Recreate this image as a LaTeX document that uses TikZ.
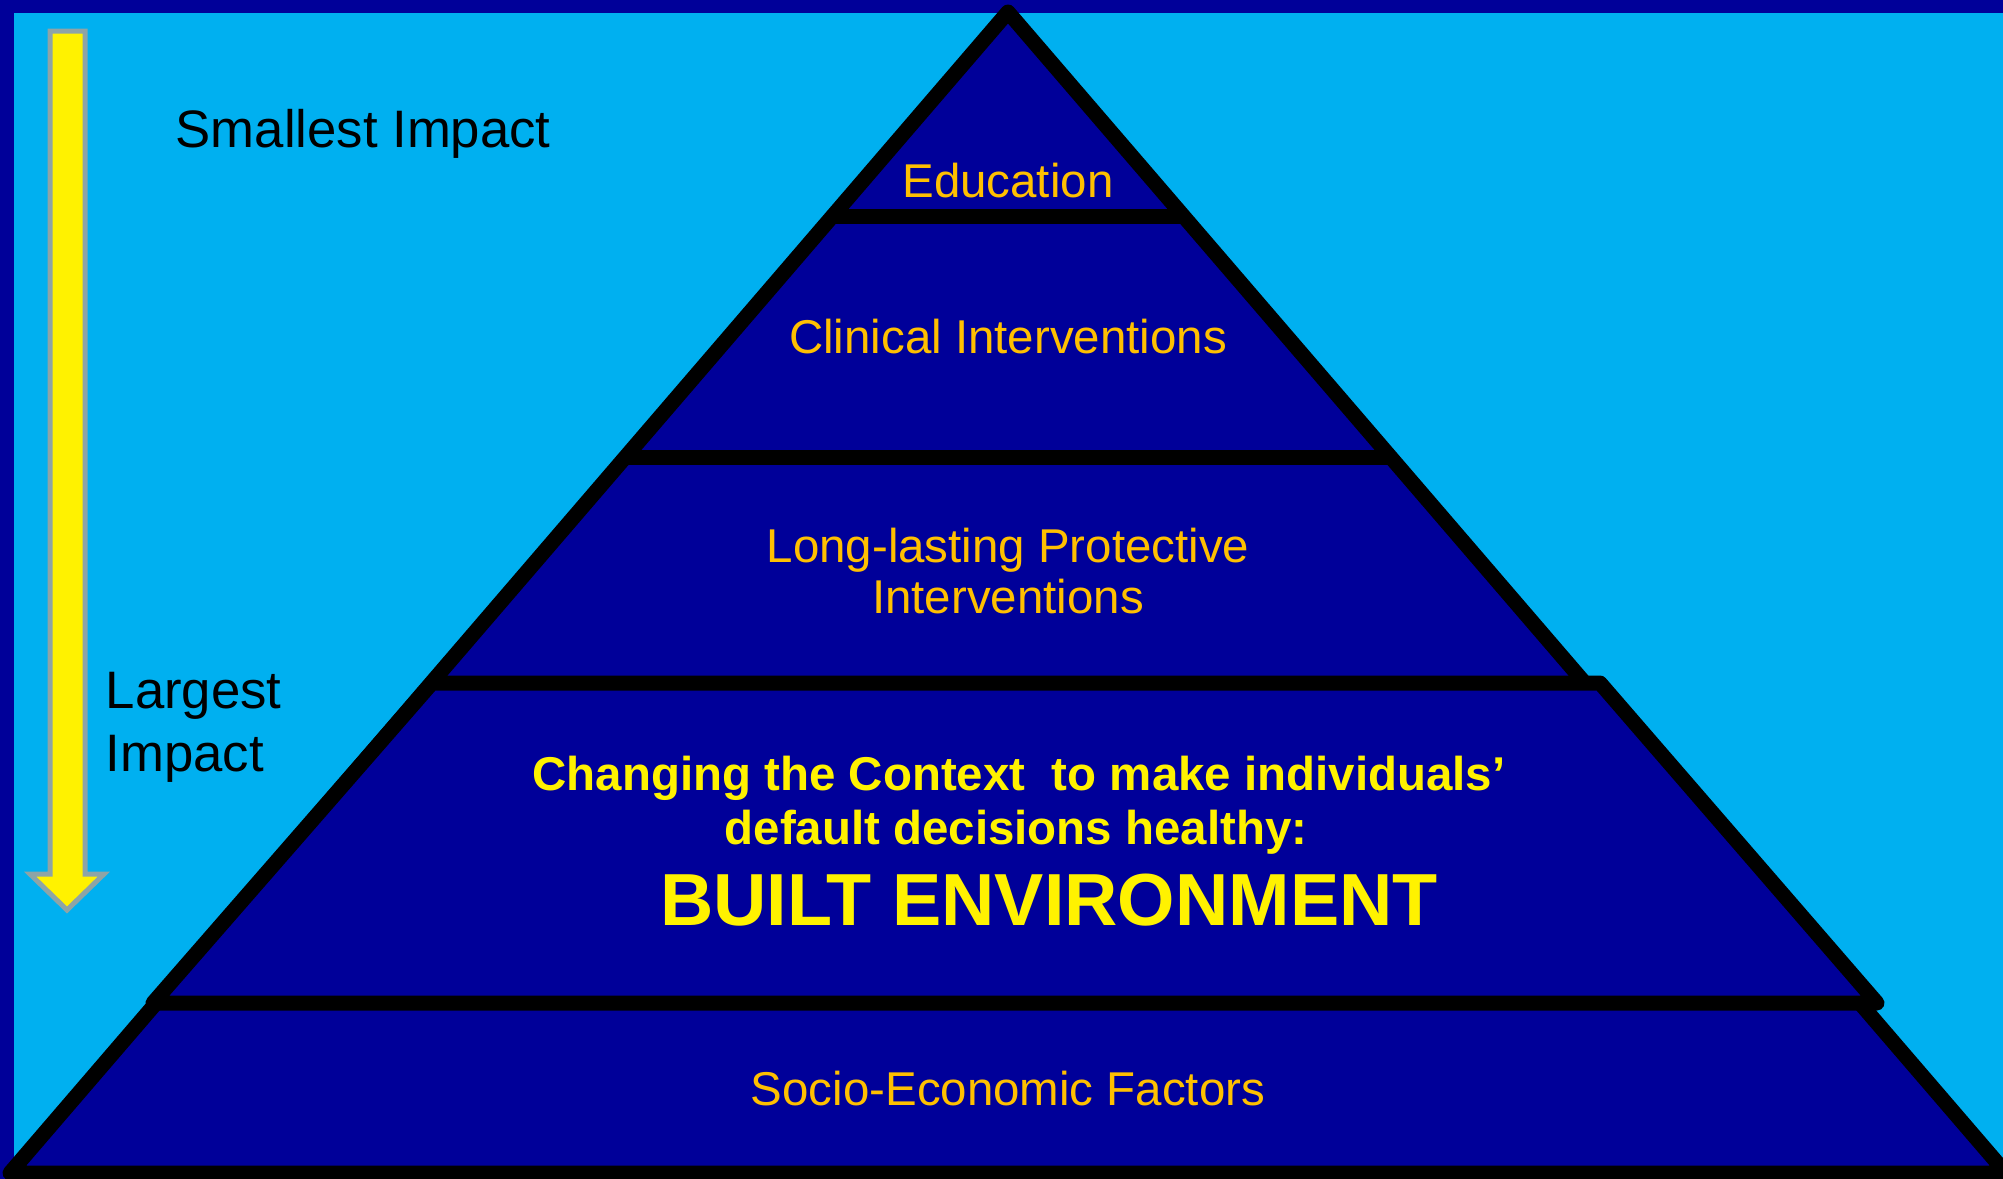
\documentclass[tikz,border=0pt]{standalone}
\usepackage{fontspec}
\setmainfont{Liberation Sans}
\usepackage{xcolor}
\usepackage{tikz}

\definecolor{skyback}{HTML}{00B0F0}
\definecolor{navy}{HTML}{000099}
\definecolor{tiergold}{HTML}{FFC000}
\definecolor{arrowgray}{HTML}{8EA4A6}

\begin{document}
\begin{tikzpicture}[
    x=0.1mm, y=-0.1mm,
    layer/.style={fill=navy, draw=black, line width=1.5mm, line join=round, line cap=round},
    tier/.style={text=tiergold, font=\fontsize{13.5}{14.3}\selectfont, align=center, anchor=base, inner sep=0pt},
    tierbold/.style={text=yellow, font=\bfseries\fontsize{13.5}{15.4}\selectfont, anchor=base, inner sep=0pt},
    side/.style={text=black, font=\fontsize{15}{17.9}\selectfont, align=left, anchor=base west, inner sep=0pt}
]
    % frame and background
    \fill[navy] (0,0) rectangle (2003,1179);
    \fill[skyback] (14,13) rectangle (2003,1179);
    \useasboundingbox (0,0) rectangle (2003,1179);

    % impact arrow
    \draw[fill=yellow, draw=arrowgray, line width=0.5mm]
        (50,31) -- (85,31) -- (85,874) -- (104,874) -- (67,910) -- (30,874) -- (50,874) -- cycle;
    \node[side] (smallest) at (175,147) {Smallest Impact};
    % base of a two-line node sits on its last line
    \node[side] (largest) at (105,771) {Largest\\Impact};

    % pyramid
    \coordinate (apex) at (1008,12);
    \coordinate (bl) at (10,1173);
    \coordinate (br) at (2006,1173);
    \draw[layer] (apex) -- (br) -- (bl) -- cycle;
    \draw[layer] (833,216) -- (1183,216);
    \draw[layer] (626,457) -- (1390,457);
    \draw[layer] (432,683) -- (1600,683) -- (1877,1003) -- (153,1003) -- cycle;

    % labels
    \node[tier] (edu) at (1008,197) {Education};
    \node[tier] (clinical) at (1008,353) {Clinical Interventions};
    \node[tier] (protect) at (1008,613) {Long-lasting Protective\\Interventions};
    \node[tierbold] (context) at (1019,790) {Changing the Context~ to make individuals’};
    \node[tierbold] (default) at (1016,844) {default decisions healthy:};
    \node[tierbold, font=\bfseries\fontsize{21}{25}\selectfont] (built) at (1049,925) {BUILT ENVIRONMENT};
    \node[tier] (socio) at (1008,1105) {Socio-Economic Factors};
\end{tikzpicture}
\end{document}
